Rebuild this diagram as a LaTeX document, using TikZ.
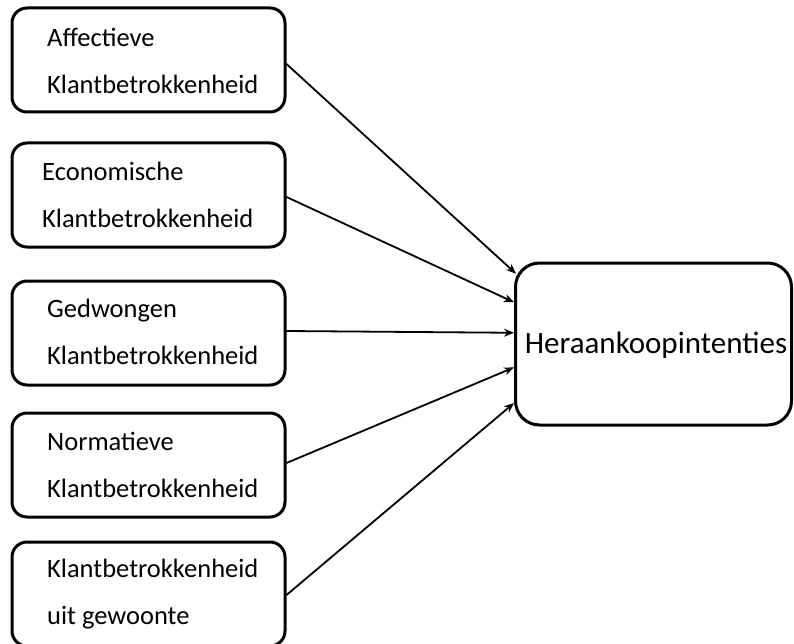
\documentclass[tikz,border=0pt]{standalone}
\usepackage{fontspec}
\setmainfont{Carlito}
\usetikzlibrary{arrows.meta,calc}
\begin{document}
\begin{tikzpicture}[x=1pt,y=-1pt,
  src/.style={draw,line width=3pt,rounded corners=15pt,minimum width=273pt,minimum height=104pt,inner sep=0pt},
  tgt/.style={draw,line width=3pt,rounded corners=24pt,minimum width=276pt,minimum height=162pt,inner sep=0pt},
  lbl/.style={anchor=west,align=left,inner sep=0pt,font=\fontsize{26.5}{47.5}\selectfont},
  conn/.style={line width=1.8pt,-{Stealth[length=10pt,width=8pt]}}]
\useasboundingbox (0,0) rectangle (794,644);
\node[src] (A) at (148.5,60) {};
\node[src] (B) at (148.5,195) {};
\node[src] (C) at (148.5,333) {};
\node[src] (D) at (148.5,465) {};
\node[src] (E) at (148.5,594) {};
\node[tgt] (H) at (653.5,344) {};
\node[lbl] (tA) at (47,61) {Affectieve\\Klantbetrokkenheid};
\node[lbl] (tB) at (42,195) {Economische\\Klantbetrokkenheid};
\node[lbl] (tC) at (47,332) {Gedwongen\\Klantbetrokkenheid};
\node[lbl] (tD) at (47,465) {Normatieve\\Klantbetrokkenheid};
\node[lbl] (tE) at (47,594) {Klantbetrokkenheid\\uit gewoonte};
\node[inner sep=0pt,font=\fontsize{31}{36}\selectfont] (tH) at (656,345) {Heraankoopintenties};
\coordinate (e1) at ($(H.north west)!0.074!(H.south west)+(2,0)$);
\coordinate (e2) at ($(H.north west)!0.247!(H.south west)$);
\coordinate (e3) at ($(H.north west)!0.432!(H.south west)$);
\coordinate (e4) at ($(H.north west)!0.642!(H.south west)$);
\coordinate (e5) at ($(H.north west)!0.858!(H.south west)$);
\draw[conn] ($(A.east)+(0,4)$) -- (e1);
\draw[conn] ($(B.east)+(0,2)$) -- (e2);
\draw[conn] ($(C.east)+(0,-2)$) -- (e3);
\draw[conn] ($(D.east)+(0,-2)$) -- (e4);
\draw[conn] ($(E.east)+(0,1)$) -- (e5);
\end{tikzpicture}
\end{document}
